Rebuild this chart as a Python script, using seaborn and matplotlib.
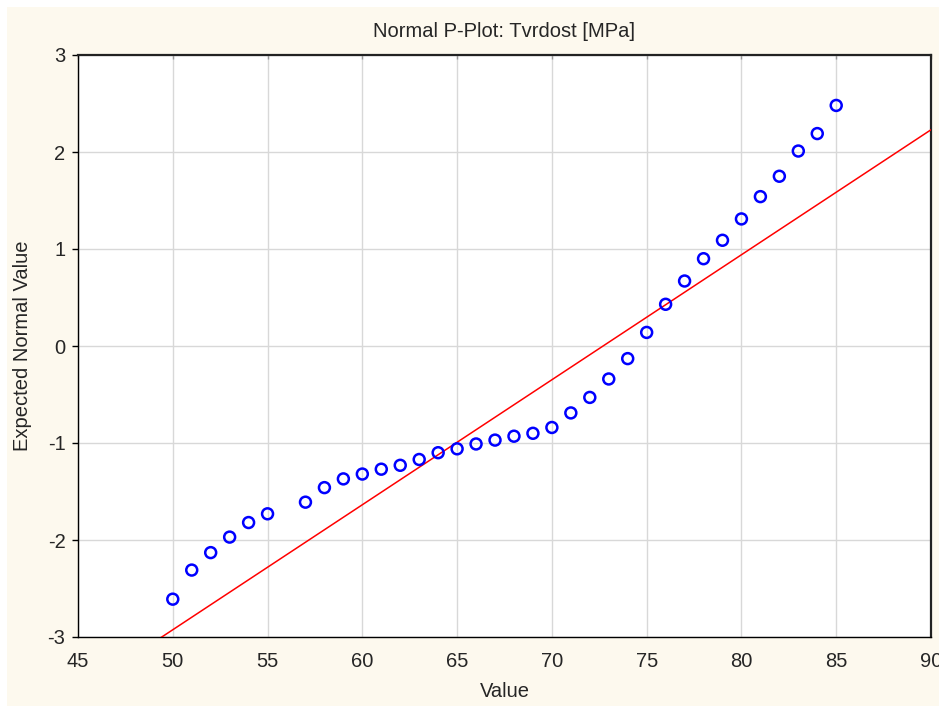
"""
Normal probability plot of hardness values (Tvrdost [MPa]).
"""

import matplotlib
matplotlib.use('Agg')
import matplotlib.pyplot as plt
from matplotlib.patches import Rectangle
import numpy as np
import pandas as pd
import seaborn as sns


# observed values (MPa) and their expected normal values
values = [50, 51, 52, 53, 54, 55, 57, 58, 59, 60, 61, 62, 63, 64, 65, 66, 67, 68,
          69, 70, 71, 72, 73, 74, 75, 76, 77, 78, 79, 80, 81, 82, 83, 84, 85]
expected = [-2.61, -2.31, -2.13, -1.97, -1.82, -1.73, -1.61, -1.46, -1.37, -1.32,
            -1.27, -1.23, -1.17, -1.10, -1.06, -1.01, -0.97, -0.93, -0.90, -0.84,
            -0.69, -0.53, -0.34, -0.13, 0.14, 0.43, 0.67, 0.90, 1.09, 1.31,
            1.54, 1.75, 2.01, 2.19, 2.48]

# fitted normal reference line
line_mean = 72.7
line_sd = 7.76

x_ticks = [45, 50, 55, 60, 65, 70, 75, 80, 85, 90]
y_ticks = [-3, -2, -1, 0, 1, 2, 3]

title = 'Normal P-Plot: Tvrdost [MPa]'
x_label = 'Value'
y_label = 'Expected Normal Value'


def main():
    sns.set_style('white')
    plt.rcParams['font.family'] = ['Liberation Sans', 'DejaVu Sans']
    plt.rcParams['axes.unicode_minus'] = False

    df = pd.DataFrame({'value': values, 'expected': expected})
    line_x = np.array([45.0, 90.0])
    line_df = pd.DataFrame({'x': line_x, 'y': (line_x - line_mean) / line_sd})

    fig = plt.figure(figsize=(9.39, 7.06), dpi=100, facecolor='white')
    panel = Rectangle((7 / 939, 0), 1 - 7 / 939, 1 - 7 / 706,
                      transform=fig.transFigure, facecolor='#fdf9ee',
                      edgecolor='none', zorder=-10)
    fig.add_artist(panel)
    ax = fig.add_axes([78 / 939, 1 - 637 / 706, (931 - 78) / 939, (637 - 55) / 706])
    ax.set_zorder(1)
    ax.set_facecolor('white')

    sns.lineplot(data=line_df, x='x', y='y', color='#ff0000', linewidth=1.1, ax=ax, zorder=3)
    sns.scatterplot(data=df, x='value', y='expected', marker='o', s=62,
                    facecolors='none', edgecolor='#0000ff', linewidth=1.8, ax=ax, zorder=4)

    ax.set_xlim(45, 90)
    ax.set_ylim(-3, 3)
    ax.set_xticks(x_ticks)
    ax.set_yticks(y_ticks)
    ax.set_xticklabels([str(t) for t in x_ticks])
    ax.set_yticklabels([str(t) for t in y_ticks])
    ax.grid(True, color='#d8d8d8', linewidth=1)
    ax.set_axisbelow(True)

    for side in ['left', 'bottom']:
        ax.spines[side].set_color('black')
        ax.spines[side].set_linewidth(1.0)
    for side in ['top', 'right']:
        ax.spines[side].set_color('#222222')
        ax.spines[side].set_linewidth(1.6)
        ax.spines[side].set_visible(True)

    ax.tick_params(axis='y', left=True, length=4, width=1, color='black',
                   labelsize=14.5, pad=5)
    ax.tick_params(axis='x', bottom=False, top=True, direction='in', length=3,
                   width=1, color='#999999', labelbottom=True, labeltop=False,
                   labelsize=14.5, pad=11)

    ax.set_title(title, fontsize=14.5, y=1.031, pad=0)
    ax.set_xlabel(x_label, fontsize=14.5)
    ax.set_ylabel(y_label, fontsize=14.5)
    ax.xaxis.set_label_coords(0.5, -0.078)
    ax.yaxis.set_label_coords(-0.054, 0.5)

    plt.savefig('out.png', dpi=100, facecolor=fig.get_facecolor())
    plt.close(fig)


if __name__ == '__main__':
    main()
